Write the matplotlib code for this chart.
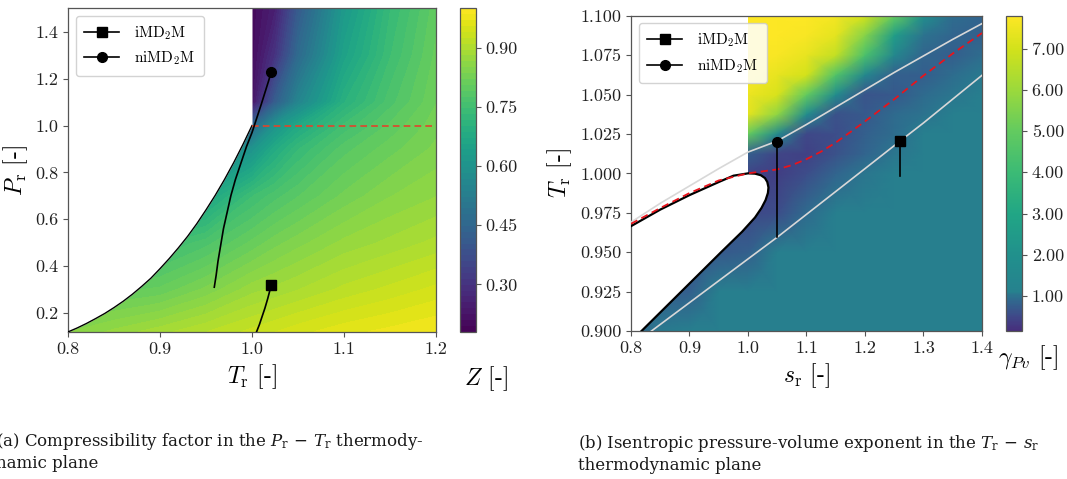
import numpy as np
import matplotlib
matplotlib.use("Agg")
import matplotlib.pyplot as plt
from matplotlib.colors import LinearSegmentedColormap
from matplotlib.ticker import FormatStrFormatter

plt.rcParams.update({
    "font.family": "serif",
    "font.serif": ["cmr10"],
    "mathtext.fontset": "cm",
    "axes.formatter.use_mathtext": True,
    "axes.unicode_minus": False,
})

# ---------------- data: panel (a) ----------------
tr_grid = [0.8, 0.85, 0.9, 0.95, 1.0, 1.025, 1.05, 1.1, 1.15, 1.2]
pr_grid = [0.12, 0.3, 0.5, 0.7, 0.9, 1.0, 1.1, 1.3, 1.5]
z_grid = [
    [0.85, 0.87, 0.89, 0.91, 0.93, 0.94, 0.95, 0.965, 0.975, 0.985],
    [0.79, 0.80, 0.81, 0.84, 0.875, 0.885, 0.895, 0.915, 0.93, 0.945],
    [0.72, 0.73, 0.74, 0.77, 0.81, 0.83, 0.845, 0.87, 0.885, 0.90],
    [0.63, 0.64, 0.65, 0.66, 0.745, 0.77, 0.79, 0.825, 0.85, 0.865],
    [0.52, 0.53, 0.54, 0.55, 0.60, 0.68, 0.73, 0.785, 0.815, 0.84],
    [0.45, 0.45, 0.45, 0.45, 0.45, 0.60, 0.67, 0.75, 0.795, 0.83],
    [0.22, 0.22, 0.22, 0.22, 0.22, 0.42, 0.55, 0.70, 0.77, 0.82],
    [0.20, 0.20, 0.20, 0.20, 0.20, 0.30, 0.46, 0.65, 0.745, 0.81],
    [0.20, 0.20, 0.20, 0.20, 0.20, 0.25, 0.41, 0.62, 0.73, 0.80],
]
sat_tr = [0.80, 0.81, 0.82, 0.83, 0.84, 0.85, 0.86, 0.87, 0.88, 0.89, 0.90,
          0.91, 0.92, 0.93, 0.94, 0.95, 0.96, 0.97, 0.98, 0.99, 1.00]
sat_pr = [0.119, 0.136, 0.155, 0.176, 0.198, 0.223, 0.250, 0.280, 0.313, 0.348, 0.389,
          0.432, 0.478, 0.527, 0.581, 0.640, 0.702, 0.769, 0.841, 0.918, 1.000]
crit_iso_tr = [1.0, 1.2]
crit_iso_pr = [1.0, 1.0]
ni_tr = [0.959, 0.961, 0.963, 0.966, 0.969, 0.973, 0.977, 0.982, 0.988, 0.994,
         1.000, 1.005, 1.010, 1.014, 1.018, 1.021]
ni_pr = [0.31, 0.36, 0.42, 0.49, 0.56, 0.63, 0.70, 0.77, 0.84, 0.91,
         0.97, 1.03, 1.09, 1.14, 1.19, 1.23]
i_tr = [1.005, 1.008, 1.011, 1.014, 1.017, 1.019, 1.021]
i_pr = [0.12, 0.15, 0.185, 0.22, 0.26, 0.29, 0.32]
a_xticks = [0.8, 0.9, 1.0, 1.1, 1.2]
a_yticks = [0.2, 0.4, 0.6, 0.8, 1.0, 1.2, 1.4]
a_cticks = [0.30, 0.45, 0.60, 0.75, 0.90]

# ---------------- data: panel (b) ----------------
s_grid = [0.8, 0.85, 0.9, 0.95, 1.0, 1.05, 1.1, 1.15, 1.2, 1.25, 1.3, 1.35, 1.4]
t_grid = [0.9, 0.925, 0.95, 0.975, 1.0, 1.0125, 1.025, 1.0375, 1.05, 1.0625,
          1.075, 1.0875, 1.1]
g_grid = [
    [0.80, 1.05, 1.10, 1.10, 1.10, 1.10, 1.10, 1.10, 1.10, 1.10, 1.10, 1.10, 1.10],
    [0.75, 0.75, 0.80, 1.08, 1.10, 1.10, 1.10, 1.10, 1.10, 1.10, 1.10, 1.10, 1.10],
    [0.70, 0.70, 0.70, 0.70, 0.80, 1.08, 1.10, 1.10, 1.10, 1.10, 1.10, 1.10, 1.10],
    [0.60, 0.60, 0.60, 0.60, 0.50, 0.55, 0.90, 1.08, 1.10, 1.10, 1.10, 1.10, 1.10],
    [0.45, 0.45, 0.45, 0.45, 0.45, 0.38, 0.55, 0.85, 1.02, 1.10, 1.10, 1.10, 1.10],
    [0.80, 0.80, 0.80, 0.80, 0.80, 0.45, 0.40, 0.60, 0.85, 1.02, 1.10, 1.10, 1.10],
    [5.00, 5.00, 5.00, 5.00, 5.00, 1.60, 0.50, 0.55, 0.80, 0.95, 1.08, 1.10, 1.10],
    [7.30, 7.30, 7.30, 7.30, 7.30, 5.80, 1.80, 0.60, 0.70, 0.90, 1.00, 1.10, 1.10],
    [7.50, 7.50, 7.50, 7.50, 7.50, 7.10, 5.00, 1.80, 0.65, 0.70, 0.90, 1.02, 1.10],
    [7.70, 7.70, 7.70, 7.70, 7.70, 7.40, 7.00, 4.60, 1.50, 0.80, 0.75, 0.95, 1.05],
    [7.80, 7.80, 7.80, 7.80, 7.80, 7.70, 7.40, 6.70, 4.40, 1.50, 0.85, 0.75, 0.95],
    [7.80, 7.80, 7.80, 7.80, 7.80, 7.80, 7.70, 7.30, 5.60, 2.60, 1.00, 0.85, 0.80],
    [7.80, 7.80, 7.80, 7.80, 7.80, 7.80, 7.80, 7.60, 7.00, 5.00, 2.00, 0.95, 0.85],
]
dome_s = [0.8, 0.85, 0.9, 0.95, 0.975, 1.0, 1.012, 1.022, 1.029, 1.033, 1.035,
          1.034, 1.030, 1.023, 1.012, 0.99, 0.954, 0.886, 0.818]
dome_t = [0.9665, 0.977, 0.9862, 0.9945, 0.9985, 1.0, 0.9998, 0.9988, 0.997, 0.9945,
          0.991, 0.9875, 0.983, 0.978, 0.972, 0.963, 0.95, 0.925, 0.9]
up_s = [0.8, 0.85, 0.9, 0.95, 1.0, 1.05, 1.1, 1.15, 1.2, 1.25, 1.3, 1.35, 1.4]
up_t = [0.969, 0.981, 0.992, 1.003, 1.0135, 1.0205, 1.031, 1.042, 1.053, 1.064,
        1.0745, 1.085, 1.095]
lo_s = [0.835, 0.9, 1.0, 1.05, 1.1, 1.2, 1.26, 1.3, 1.4]
lo_t = [0.9, 0.918, 0.9457, 0.9595, 0.974, 1.003, 1.0205, 1.032, 1.0622]
red_s = [0.8, 0.85, 0.9, 0.95, 1.0, 1.05, 1.075, 1.1, 1.125, 1.15, 1.175, 1.2,
         1.25, 1.3, 1.35, 1.4]
red_t = [0.968, 0.978, 0.9875, 0.9955, 1.0, 1.0025, 1.0052, 1.009, 1.0138, 1.0195,
         1.0262, 1.033, 1.047, 1.062, 1.076, 1.089]
ni_s = [1.05, 1.05]
ni_t = [1.02, 0.9595]
i_s = [1.26, 1.26]
i_t = [1.0205, 0.9985]
b_xticks = [0.8, 0.9, 1.0, 1.1, 1.2, 1.3, 1.4]
b_yticks = [0.9, 0.925, 0.95, 0.975, 1.0, 1.025, 1.05, 1.075, 1.1]
b_cticks = [1, 2, 3, 4, 5, 6, 7]

# colour map for panel (b): value -> viridis fraction
gcm_vals = [0.15, 0.5, 0.8, 1.0, 1.1, 2.0, 3.0, 4.0, 5.0, 6.0, 7.0, 7.8]
gcm_frac = [0.13, 0.22, 0.31, 0.38, 0.44, 0.50, 0.59, 0.68, 0.76, 0.85, 0.93, 1.0]

W, H = 1067, 479
fig = plt.figure(figsize=(W / 100, H / 100), dpi=100)
ax1 = fig.add_axes([68 / W, 1 - 331.7 / H, 368 / W, 323.3 / H])
cax1 = fig.add_axes([460 / W, 1 - 331.7 / H, 16 / W, 323.3 / H])
ax2 = fig.add_axes([631 / W, 1 - 331 / H, 351 / W, 315.3 / H])
cax2 = fig.add_axes([1006 / W, 1 - 331 / H, 16 / W, 315.3 / H])

spine_c = "#555555"
lab_fs = 17
tick_fs = 13
leg_fs = 11

# ---------- panel (a) ----------
cs1 = ax1.contourf(tr_grid, pr_grid, np.array(z_grid), levels=np.linspace(0.18, 1.0, 56),
                   cmap="viridis", zorder=1)
ax1.fill_between(sat_tr, sat_pr, 1.6, color="white", zorder=2, lw=0)
ax1.plot(sat_tr, sat_pr, color="k", lw=1.0, zorder=3)
ax1.plot(crit_iso_tr, crit_iso_pr, "--", color="#e0452c", lw=1.2, dashes=(4, 2.5), zorder=3)
ax1.plot(i_tr, i_pr, color="k", lw=1.2, marker="s", ms=7, markevery=[len(i_tr) - 1],
         zorder=4, label="iMD$_2$M")
ax1.plot(ni_tr, ni_pr, color="k", lw=1.2, marker="o", ms=7, markevery=[len(ni_tr) - 1],
         zorder=4, label="niMD$_2$M")
ax1.set_xlim(0.8, 1.2)
ax1.set_ylim(0.12, 1.5)
ax1.set_xticks(a_xticks)
ax1.set_yticks(a_yticks)
ax1.xaxis.set_major_formatter(FormatStrFormatter("%.1f"))
ax1.yaxis.set_major_formatter(FormatStrFormatter("%.1f"))
ax1.set_xlabel(r"$T_{\rm r}$ [-]", fontsize=lab_fs)
ax1.set_ylabel(r"$P_{\rm r}$ [-]", fontsize=lab_fs)
cb1 = fig.colorbar(cs1, cax=cax1, ticks=a_cticks, format="%.2f")
cax1.set_xlabel(r"$Z$ [-]", fontsize=lab_fs)
cax1.xaxis.set_label_coords(1.6, -0.1)

# ---------- panel (b) ----------
gnodes = [(v - gcm_vals[0]) / (gcm_vals[-1] - gcm_vals[0]) for v in gcm_vals]
vir = plt.get_cmap("viridis")
gcmap = LinearSegmentedColormap.from_list("gpv", list(zip(gnodes, [vir(f) for f in gcm_frac])))
pm2 = ax2.pcolormesh(s_grid, t_grid, np.array(g_grid), shading="gouraud", cmap=gcmap,
                     vmin=gcm_vals[0], vmax=gcm_vals[-1], zorder=1)
itop = dome_s.index(1.0)
poly_s = [0.8, 1.0] + dome_s[itop:] + [0.8]
poly_t = [1.1, 1.1] + dome_t[itop:] + [0.9]
ax2.fill(poly_s, poly_t, color="white", zorder=2, lw=0)
ax2.plot(up_s, up_t, color="#d8d8d8", lw=1.2, zorder=3)
ax2.plot(lo_s, lo_t, color="#d8d8d8", lw=1.2, zorder=3)
ax2.plot(dome_s, dome_t, color="k", lw=1.6, zorder=3)
ax2.plot(red_s, red_t, "--", color="#e8141c", lw=1.3, dashes=(4, 2.5), zorder=3)
ax2.plot(i_s, i_t, color="k", lw=1.2, marker="s", ms=7, markevery=[0], zorder=4,
         label="iMD$_2$M")
ax2.plot(ni_s, ni_t, color="k", lw=1.2, marker="o", ms=7, markevery=[0], zorder=4,
         label="niMD$_2$M")
ax2.set_xlim(0.8, 1.4)
ax2.set_ylim(0.9, 1.1)
ax2.set_xticks(b_xticks)
ax2.set_yticks(b_yticks)
ax2.xaxis.set_major_formatter(FormatStrFormatter("%.1f"))
ax2.yaxis.set_major_formatter(FormatStrFormatter("%.3f"))
ax2.set_xlabel(r"$s_{\rm r}$ [-]", fontsize=lab_fs)
ax2.set_ylabel(r"$T_{\rm r}$ [-]", fontsize=lab_fs)
cb2 = fig.colorbar(pm2, cax=cax2, ticks=b_cticks, format="%.2f")
cax2.set_xlabel(r"$\gamma_{Pv}$ [-]", fontsize=lab_fs)
cax2.xaxis.set_label_coords(1.4, -0.04)

for ax in (ax1, ax2):
    ax.tick_params(direction="out", length=3.5, width=0.8, color=spine_c,
                   labelsize=tick_fs, labelcolor="#222222")
    for sp in ax.spines.values():
        sp.set_color(spine_c)
        sp.set_linewidth(0.9)
    ax.legend(loc="upper left", fontsize=leg_fs, frameon=True, fancybox=True,
              framealpha=0.85, edgecolor="#cccccc", handlelength=2.3,
              handletextpad=1.0, borderpad=0.55, labelspacing=0.5)
for cb in (cb1, cb2):
    cb.ax.tick_params(direction="out", length=3.5, width=0.8, color=spine_c,
                      labelsize=tick_fs, labelcolor="#222222")
    cb.outline.set_edgecolor(spine_c)
    cb.outline.set_linewidth(0.9)

# captions
cap_kw = dict(family="DejaVu Serif", fontsize=12.0, math_fontfamily="dejavuserif",
              ha="left", va="center", color="#1a1a1a")
fig.text(-4 / W, 1 - 441 / H, r"(a) Compressibility factor in the $P_{\rm r}\,-\,T_{\rm r}$ thermody-", **cap_kw)
fig.text(-4 / W, 1 - 463 / H, "namic plane", **cap_kw)
fig.text(578 / W, 1 - 443 / H, r"(b) Isentropic pressure-volume exponent in the $T_{\rm r}\,-\,s_{\rm r}$", **cap_kw)
fig.text(578 / W, 1 - 466 / H, "thermodynamic plane", **cap_kw)

fig.savefig("out.png", dpi=100)
